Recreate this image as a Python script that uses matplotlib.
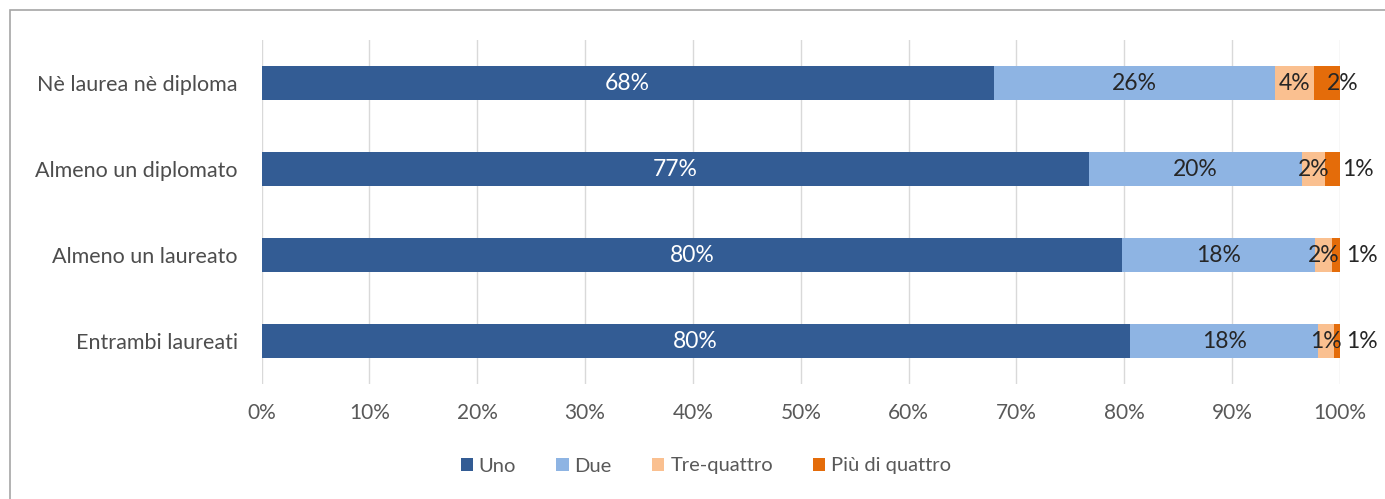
import matplotlib
matplotlib.use("Agg")
import matplotlib.pyplot as plt
from matplotlib.patches import Rectangle
import numpy as np

categories = ["Nè laurea nè diploma", "Almeno un diplomato", "Almeno un laureato", "Entrambi laureati"]
series_names = ["Uno", "Due", "Tre-quattro", "Più di quattro"]
uno = [67.9, 76.7, 79.8, 80.5]
due = [26.1, 19.8, 17.9, 17.5]
tre_quattro = [3.6, 2.1, 1.6, 1.4]
piu_di_quattro = [2.4, 1.4, 0.7, 0.6]
uno_labels = ["68%", "77%", "80%", "80%"]
due_labels = ["26%", "20%", "18%", "18%"]
tre_labels = ["4%", "2%", "2%", "1%"]
piu_labels = ["2%", "1%", "1%", "1%"]
xticks = [0, 10, 20, 30, 40, 50, 60, 70, 80, 90, 100]

colors = ["#335C94", "#8EB4E3", "#FAC090", "#E46C0A"]
label_colors = ["white", "#262626", "#262626", "#262626"]
# offsets (points) for the smallest segment labels, which sit beside the bar
piu_offsets = [11, 18.4, 18.7, 18.4]

plt.rcParams['font.family'] = ['Lato', 'DejaVu Sans']

fig = plt.figure(figsize=(13.85, 4.99), dpi=100)
W, H = 1385, 499
ax = fig.add_axes([261.5 / W, 1 - 384 / H, (1340 - 261.5) / W, (384 - 40) / H])

series = [uno, due, tre_quattro, piu_di_quattro]
labels = [uno_labels, due_labels, tre_labels, piu_labels]
y = np.arange(len(categories))
left = np.zeros(len(categories))
for i, (vals, lab) in enumerate(zip(series, labels)):
    vals = np.array(vals)
    ax.barh(y, vals, left=left, height=0.4, color=colors[i], label=series_names[i], zorder=3)
    for j in range(len(categories)):
        cx = left[j] + vals[j] / 2
        if i < 3:
            ax.text(cx, y[j], lab[j], ha='center', va='center', color=label_colors[i],
                    fontsize=16.5, zorder=4)
        else:
            ax.annotate(lab[j], (cx, y[j]), xytext=(piu_offsets[j], 0), textcoords='offset points',
                        ha='center', va='center', color=label_colors[i],
                        fontsize=16.5, zorder=4)
    left = left + vals

ax.set_ylim(3.5, -0.5)
ax.set_xlim(0, 100)
ax.set_xticks(xticks)
ax.set_xticklabels([f"{t}%" for t in xticks], color="#595959", fontsize=15)
ax.set_yticks(y)
ax.set_yticklabels(categories, color="#4D4D4D", fontsize=15.5)
ax.tick_params(axis='both', length=0)
ax.tick_params(axis='x', pad=14)
ax.tick_params(axis='y', pad=17)
ax.grid(axis='x', color="#D9D9D9", linewidth=1, zorder=0)
for s in ax.spines.values():
    s.set_visible(False)

handles, leg_labels = ax.get_legend_handles_labels()
leg = fig.legend(handles, leg_labels, loc='center', bbox_to_anchor=(706 / W, 1 - 466 / H),
                 ncol=4, frameon=False, fontsize=14.5, handlelength=0.6, handleheight=0.6,
                 handletextpad=0.3, columnspacing=2.0)
for t in leg.get_texts():
    t.set_color("#595959")

fig.patches.append(Rectangle((10 / W, -0.1), 1.2, 1 - 10 / H + 0.1, transform=fig.transFigure,
                             fill=False, edgecolor="#A6A6A6", linewidth=1.2))

fig.savefig("out.png", dpi=100)
